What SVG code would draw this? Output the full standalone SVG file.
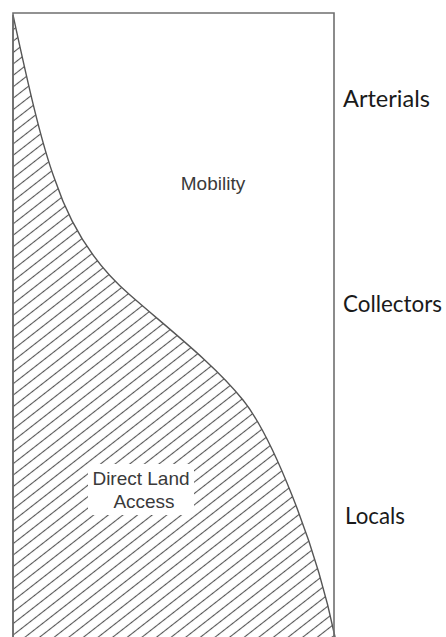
<svg xmlns="http://www.w3.org/2000/svg" width="446" height="637" viewBox="0 0 446 637">
  <defs>
    <!-- diagonal hatching for the land-access area -->
    <pattern id="hatch" patternUnits="userSpaceOnUse" width="20" height="9" patternTransform="rotate(-38)">
      <line x1="0" y1="4.5" x2="20" y2="4.5" stroke="#555" stroke-width="1.1"/>
    </pattern>
    <style>
      .frame { fill: none; stroke: #6f6f6f; stroke-width: 1.6; }
      .curve { fill: url(#hatch); stroke: #555; stroke-width: 1.4; }
      .inner { font-family: "Liberation Sans", Arial, sans-serif; font-size: 19px; fill: #3a3a3a; text-anchor: middle; }
      .level { font-family: "Lato", "Liberation Sans", sans-serif; font-size: 24px; fill: #1a1a1a; }
    </style>
  </defs>
  <rect width="446" height="637" fill="#fff"/>

  <!-- hatched region under the mobility/access curve -->
  <g id="access-area">
    <path class="curve" d="M13,15 C25,70 40,140 55,180 C70,225 95,265 130,295 C170,330 215,365 243,400 C271,435 315,540 335,637 L335,645 L13,645 Z"/>
    <rect x="88" y="464" width="106" height="51" fill="#fff"/>
    <text class="inner" x="141" y="485">Direct Land</text>
    <text class="inner" x="144" y="508">Access</text>
  </g>

  <!-- outer frame -->
  <g id="frame">
    <path class="frame" d="M13,645 L13,13 L334,13 L334,645"/>
  </g>

  <g id="mobility">
    <text class="inner" x="213" y="190">Mobility</text>
  </g>

  <!-- functional class labels -->
  <g id="arterials">
    <text class="level" x="343" y="107" textLength="87" lengthAdjust="spacingAndGlyphs">Arterials</text>
  </g>
  <g id="collectors">
    <text class="level" x="343" y="312" textLength="99" lengthAdjust="spacingAndGlyphs">Collectors</text>
  </g>
  <g id="locals">
    <text class="level" x="345" y="524" textLength="60" lengthAdjust="spacingAndGlyphs">Locals</text>
  </g>
</svg>
